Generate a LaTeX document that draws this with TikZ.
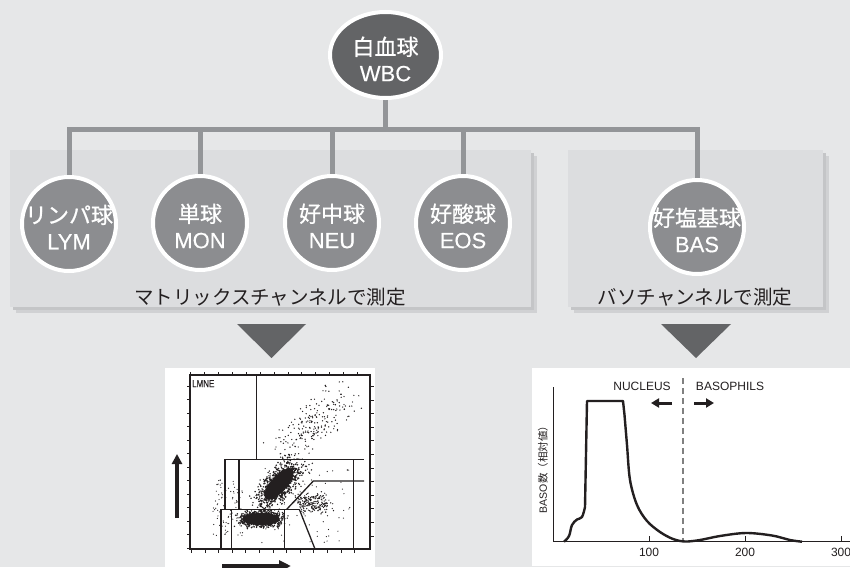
\documentclass[tikz,border=0pt]{standalone}
\usepackage{fontspec}
\setmainfont{Liberation Sans}
\newfontfamily\jp{Noto Sans CJK JP}
\newfontfamily\jpm[FakeBold=0.7]{Noto Sans CJK JP}
\newfontfamily\latm[FakeBold=0.4]{Liberation Sans}
\usetikzlibrary{arrows.meta,shapes.geometric}
\pgfdeclarelayer{bg}
\pgfdeclarelayer{mid}
\pgfsetlayers{bg,mid,main}
\definecolor{bgc}{HTML}{E6E7E8}
\definecolor{panelc}{HTML}{DCDDDF}
\definecolor{shadA}{HTML}{C4C5C7}
\definecolor{shadB}{HTML}{D0D1D3}
\definecolor{stemc}{HTML}{939598}
\definecolor{cellc}{HTML}{8C8D90}
\definecolor{wbcc}{HTML}{636466}
\definecolor{inkc}{HTML}{231F20}
\begin{document}
\begin{tikzpicture}[x=1pt,y=-1pt,
  cell/.style={circle,fill=cellc,draw=white,line width=4pt,minimum size=94pt,inner sep=0pt},
  celltext/.style={text=white,align=center,inner sep=0pt,font=\fontsize{22}{26}\selectfont\latm},
  stem/.style={draw=stemc,line width=5pt},
  chan/.style={text=inkc,inner sep=0pt,font=\fontsize{19.5}{22}\selectfont\jp},
  gate/.style={draw=inkc,line width=1.3pt},
  tickl/.style={draw=inkc,line width=0.9pt},
  dot/.style={fill=inkc},
  curve/.style={draw=inkc,line width=2.4pt,line join=round},
  small/.style={text=inkc,inner sep=0pt,font=\fontsize{12}{14}\selectfont}
]
\useasboundingbox (0,0) rectangle (850,567);
\begin{pgfonlayer}{bg}
\fill[bgc] (0,0) rectangle (850,567);
% panels
\fill[shadB] (16,156) rectangle (537,313);
\fill[shadA] (13,153) rectangle (534,310);
\fill[panelc] (10,150) rectangle (531,307);
\fill[shadB] (574,156) rectangle (829,313);
\fill[shadA] (571,153) rectangle (826,310);
\fill[panelc] (568,150) rectangle (823,307);
\end{pgfonlayer}

% nodes
\node[ellipse,fill=wbcc,draw=white,line width=4pt,minimum width=111pt,minimum height=86pt,inner sep=0pt] (wbc) at (385.5,55) {};
\node[celltext] (wbct) at ([yshift=-4pt]wbc.center) {{\jpm 白血球}\\WBC};

\node[cell] (lym) at (69,224) {};
\node[cell] (mon) at (200,223) {};
\node[cell] (neu) at (332,223) {};
\node[cell] (eos) at (463,223) {};
\node[cell] (bas) at (697,227) {};
\node[celltext] (lymt) at ([yshift=-3pt]lym.center) {{\jpm リンパ球}\\LYM};
\node[celltext] (mont) at ([yshift=-3pt]mon.center) {{\jpm 単球}\\MON};
\node[celltext] (neut) at ([yshift=-3pt]neu.center) {{\jpm 好中球}\\NEU};
\node[celltext] (eost) at ([yshift=-3pt]eos.center) {{\jpm 好酸球}\\EOS};
\node[celltext] (bast) at ([yshift=-3pt]bas.center) {{\jpm 好塩基球}\\BAS};

\coordinate (barY) at (0,129);
\begin{pgfonlayer}{mid}
\draw[stem] (lym.center) -- (lym.center |- barY) -- (bas.center |- barY) -- (bas.center);
\draw[stem] (mon.center) -- (mon.center |- barY);
\draw[stem] (neu.center) -- (neu.center |- barY);
\draw[stem] (eos.center) -- (eos.center |- barY);
\draw[stem] (wbc.center) -- (wbc.center |- barY);
\end{pgfonlayer}

\node[chan] (matrix) at (270,297) {マトリックスチャンネルで測定};
\node[chan] (baso) at (695,297) {バソチャンネルで測定};

% triangles
\fill[wbcc] (237,324) -- (306,324) -- (271.5,358) -- cycle;
\fill[wbcc] (661,324) -- (731,324) -- (696,358) -- cycle;

% ---------- scatter plot ----------
\fill[white] (165,368) rectangle (375,570);
\pgfmathsetseed{12}
% dense cores
\fill[inkc] (261,519) ellipse [x radius=19pt, y radius=6pt];
\fill[inkc,rotate around={48:(279,484)}] (279,484) ellipse [x radius=20pt, y radius=8pt];
% lymphocytes
\foreach \i in {1,...,1000}{
  \pgfmathsetmacro\u{(rand+rand+rand)/3}
  \pgfmathsetmacro\v{(rand+rand+rand)/3}
  \fill[dot] ({260+30*\u},{519+11*\v}) circle (0.8);
}
% neutrophils
\foreach \i in {1,...,1000}{
  \pgfmathsetmacro\u{(rand+rand+rand)/3}
  \pgfmathsetmacro\v{(rand+rand+rand)/3}
  \fill[dot] ({279+28*\u+14*\v},{484-31*\u+13*\v}) circle (0.8);
}
% eosinophils
\foreach \i in {1,...,200}{
  \pgfmathsetmacro\u{(rand+rand)/2}
  \pgfmathsetmacro\v{(rand+rand)/2}
  \fill[dot] ({313+22*\u},{503+12*\v}) circle (0.7);
}
% upper sparse band
\foreach \i in {1,...,220}{
  \pgfmathsetmacro\u{(rand+rand)/2}
  \pgfmathsetmacro\v{(rand+rand)/2}
  \fill[dot] ({314+40*\u+16*\v},{424-36*\u+17*\v}) circle (0.7);
}
% fringe
\foreach \i in {1,...,90}{
  \pgfmathsetmacro\u{rand}
  \pgfmathsetmacro\v{rand}
  \fill[dot] ({228+15*\u},{508+28*\v}) circle (0.6);
}
\foreach \i in {1,...,90}{
  \pgfmathsetmacro\u{rand}
  \pgfmathsetmacro\v{rand}
  \fill[dot] ({305+45*\u},{505+38*\v}) circle (0.6);
}
% frame
\draw[inkc,line width=1.5pt] (190,375) rectangle (370,549);
\foreach \k in {0,...,12}{
  \draw[tickl] ({190.7+13.9*\k},375) -- ++(0,-3.5);
  \draw[tickl] ({191.5+13.6*\k},549) -- ++(0,3.5);
  \draw[tickl] (190,{386+13.5*\k}) -- ++(-3.5,0);
}
\foreach \k in {0,...,11}{
  \draw[tickl] (370,{386.5+13.6*\k}) -- ++(3.5,0);
}
% gates
\draw[gate] (256.7,375) -- (256.7,459.3);
\draw[gate] (225,459.3) -- (364,459.3);
\draw[gate] (225,459.3) -- (225,509.3);
\draw[gate] (239,459.3) -- (239,509.3);
\draw[gate] (221,509.3) -- (299.3,509.3);
\draw[gate] (221,509.3) -- (221,549);
\draw[gate] (231.7,509.3) -- (231.7,549);
\draw[gate] (284.3,509.3) -- (284.3,549);
\draw[gate] (286.7,509.3) -- (313.3,481) -- (364,481);
\draw[gate] (299.3,509.3) -- (315,549);
\draw[gate] (353.3,459.3) -- (353.3,549);
\node[small,anchor=north west,font=\fontsize{10}{11}\selectfont\latm,xscale=0.8] (lmne) at (192,380) {LMNE};
\draw[inkc,line width=3.5pt,-{Triangle[length=10pt,width=10pt]}] (177,518) -- (177,454);
\draw[inkc,line width=3.5pt,-{Triangle[length=12pt,width=11pt]}] (222,566) -- (291,566);

% ---------- histogram ----------
\fill[white] (532,368) rectangle (852,566);
\draw[inkc,line width=0.9pt] (553,387) -- (553,541.7) -- (852,541.7);
\foreach \x/\t in {649/100,745/200,841/300}{
  \draw[inkc,line width=0.9pt] (\x,541.7) -- (\x,536);
  \node[small] at (\x,552) {\t};
}
\draw[draw=gray,line width=1.1pt,dash pattern=on 6pt off 4pt] (683,378) -- (683,541.7);
\node[small] (nucl) at (642,386) {NUCLEUS};
\node[small] (basop) at (730,386) {BASOPHILS};
\draw[inkc,line width=3pt,-{Triangle[length=8pt,width=9pt]}] (672,403) -- (651,403);
\draw[inkc,line width=3pt,-{Triangle[length=8pt,width=9pt]}] (694,403) -- (714,403);
\node[small,rotate=90,font=\fontsize{10.5}{12}\selectfont] (ylab) at (543,467) {BASO{\jp 数（相対値）}};
\draw[curve] plot[smooth,tension=0.6] coordinates {(564,541.7) (569,536) (572,525) (577,519.5) (582,517) (585,507)}
  -- (587,401) -- (623,401)
  -- plot[smooth,tension=0.55] coordinates {(624.5,415) (627,445) (630,480) (637,505) (647,521) (660,532) (673,539) (685,541.5) (700,540) (720,536) (746,533) (772,535.5) (790,540) (802,541.7)};
\end{tikzpicture}
\end{document}
